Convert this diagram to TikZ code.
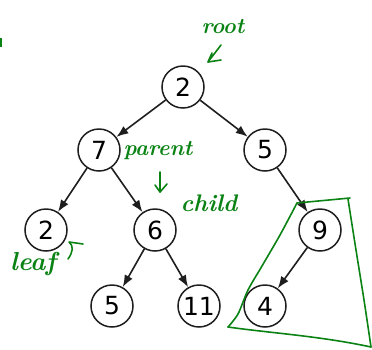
\documentclass[tikz,border=0pt]{standalone}
\usepackage{fontspec}
\setsansfont{DejaVu Sans}
\usetikzlibrary{arrows.meta}
\definecolor{inkgreen}{RGB}{10,130,20}
\definecolor{treegray}{RGB}{30,30,30}
\begin{document}
\begin{tikzpicture}[x=1pt,y=-1pt,
  vertex/.style={circle, draw=treegray, line width=1.5pt, minimum size=42pt,
    inner sep=0pt, font=\sffamily\fontsize{25}{25}\selectfont},
  edge/.style={draw=treegray, line width=1.6pt, -{Latex[length=12pt,width=9pt]}},
  ink/.style={draw=inkgreen, line width=1.6pt, line cap=round, line join=round},
  note/.style={text=inkgreen, inner sep=0pt, font=\bfseries\itshape\fontsize{22}{22}\selectfont}]
\useasboundingbox (0,0) rectangle (372,349);

% the tree
\node[vertex] (r)   at (183,87)  {2};
\node[vertex] (a)   at (99,150)  {7};
\node[vertex] (b)   at (265,150) {5};
\node[vertex] (c)   at (46,230)  {2};
\node[vertex] (d)   at (155,230) {6};
\node[vertex] (e)   at (320,230) {9};
\node[vertex] (f)   at (112,306) {5};
\node[vertex] (g)   at (199,306) {11};
\node[vertex] (h)   at (265,306) {4};

\draw[edge] (r) -- (a);
\draw[edge] (r) -- (b);
\draw[edge] (a) -- (c);
\draw[edge] (a) -- (d);
\draw[edge] (b) -- (e);
\draw[edge] (d) -- (f);
\draw[edge] (d) -- (g);
\draw[edge] (e) -- (h);

% handwritten notes
\node[note] (rootlbl) at (223,27) {root};
\draw[ink] (221,45) -- (208,62) -- (212,53);
\draw[ink] (208,62) -- (221,60);

\node[note] (parentlbl) at (158,151) {parent};
\draw[ink] (160,172) -- (160,192) -- (155,185);
\draw[ink] (160,192) -- (167,184);

\node[note, font=\bfseries\itshape\fontsize{24}{24}\selectfont] (childlbl) at (209,203) {child};

\node[note, font=\bfseries\itshape\fontsize{26}{26}\selectfont] (leaflbl) at (33,264) {leaf};
\draw[ink] (68,259) .. controls (73,252) and (74,246) .. (69,242) -- (83,244);

% subtree outline
\draw[ink] (297,203) -- (350,198);
\draw[ink] plot[smooth] coordinates {(348,199) (356,250) (364,300) (371,347)};
\draw[ink] (371,347) .. controls (320,336) and (270,333) .. (228,327);
\draw[ink] plot[smooth] coordinates {(228,327) (238,314) (248,290) (262,266) (280,235) (297,203)};

\fill[inkgreen] (0,38) rectangle (2,47);
\end{tikzpicture}
\end{document}
